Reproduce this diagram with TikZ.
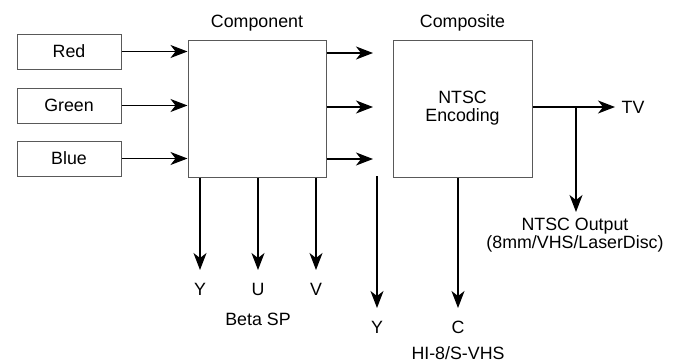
\documentclass[tikz,border=0pt]{standalone}
\usepackage{fontspec}
\setmainfont{Liberation Sans}
\usetikzlibrary{arrows.meta}
\begin{document}
\begin{tikzpicture}[x=1pt,y=-1pt,
  every node/.style={font=\fontsize{17.8}{18}\selectfont, inner sep=0pt},
  box/.style={draw=black!65, line width=1pt, fill=white},
  lbl/.style={align=center},
  arr/.style={line width=1.1pt, -{Stealth[length=17pt,width=13pt,inset=5pt]}},
  ln/.style={line width=1.1pt}]
\useasboundingbox (0,0) rectangle (675,362);
% input boxes
\node[box, minimum width=104pt, minimum height=35pt] (red) at (69,51.5) {Red};
\node[box, minimum width=104pt, minimum height=35pt] (green) at (69,105.5) {Green};
\node[box, minimum width=104pt, minimum height=35pt] (blue) at (69,158.5) {Blue};
% main boxes
\node[box, minimum width=138pt, minimum height=137pt] (comp) at (257,108.5) {};
\node[box, minimum width=139pt, minimum height=137pt, align=center] (enc) at (462.5,108.5) {NTSC\\Encoding};
\node (complbl) at (257,23) {Component};
\node (enclbl) at (462.5,23) {Composite};
% inputs
\draw[arr] (red.east) -- (red.east -| comp.west);
\draw[arr] (green.east) -- (green.east -| comp.west);
\draw[arr] (blue.east) -- (blue.east -| comp.west);
% outputs to right
\coordinate (o1) at (373,53);
\coordinate (o2) at (373,107);
\coordinate (o3) at (373,159);
\draw[arr] (comp.east |- o1) -- (o1);
\draw[arr] (comp.east |- o2) -- (o2);
\draw[arr] (comp.east |- o3) -- (o3);
% down arrows Beta SP
\coordinate (dy) at (200,270);
\coordinate (du) at (258,270);
\coordinate (dv) at (316,270);
\draw[arr] (comp.south -| dy) -- (dy);
\draw[arr] (comp.south -| du) -- (du);
\draw[arr] (comp.south -| dv) -- (dv);
\node (ly) at (200,289) {Y};
\node (lu) at (258,289) {U};
\node (lv) at (316,289) {V};
\node (beta) at (258,319) {Beta SP};
% S-video
\coordinate (sys) at (377,176);
\coordinate (sye) at (377,308);
\draw[arr] (sys) -- (sye);
\coordinate (ce) at (458,308);
\draw[arr] (enc.south -| ce) -- (ce);
\node (sy) at (377,327) {Y};
\node (sc) at (458,327) {C};
\node (hi) at (458,353) {HI-8/S-VHS};
% TV
\node (tv) at (633,107) {TV};
\coordinate (tvend) at (615,107);
\draw[arr] (enc.east |- tvend) -- (tvend);
\coordinate (j) at (576,107);
\coordinate (je) at (576,212);
\draw[arr] (j) -- (je);
\node[lbl] (ntsc) at (575,235.5) {NTSC Output\\(8mm/VHS/LaserDisc)};
\end{tikzpicture}
\end{document}
